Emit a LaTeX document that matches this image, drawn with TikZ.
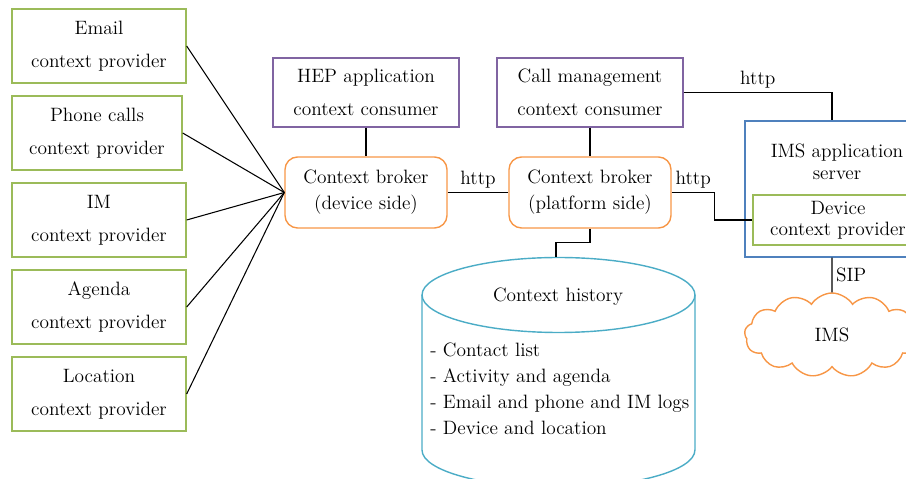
\documentclass[tikz,border=0pt]{standalone}
\usetikzlibrary{shapes.symbols}
\definecolor{provgreen}{HTML}{9BBB59}
\definecolor{conspurple}{HTML}{8064A2}
\definecolor{brokorange}{HTML}{F79646}
\definecolor{servblue}{HTML}{4F81BD}
\definecolor{histteal}{HTML}{4BACC6}
\begin{document}
\begin{tikzpicture}[x=0.02cm, y=-0.02cm, line width=0.6pt,
    font=\fontsize{11}{18.7}\selectfont,
    provider/.style={draw=provgreen, line width=0.8pt, align=center,
      minimum width=3.48cm, minimum height=1.48cm},
    consumer/.style={draw=conspurple, line width=0.8pt, align=center,
      minimum width=3.72cm, minimum height=1.38cm},
    broker/.style={draw=brokorange, line width=0.8pt, rounded corners=0.25cm,
      align=center, minimum width=3.24cm, minimum height=1.42cm,
      font=\fontsize{11}{14.7}\selectfont},
    lbl/.style={inner sep=2pt}]
  \useasboundingbox (0,0) rectangle (906,479);

  % context providers
  \node[provider] (email) at (99,46) {Email\\context provider};
  \node[provider, minimum width=3.40cm] (phone) at (97,133) {Phone calls\\context provider};
  \node[provider] (im) at (99,220) {IM\\context provider};
  \node[provider] (agenda) at (99,307) {Agenda\\context provider};
  \node[provider] (location) at (99,394) {Location\\context provider};

  % consumers and brokers
  \node[consumer] (hep) at (366,92.5) {HEP application\\context consumer};
  \node[consumer] (call) at (590,92.5) {Call management\\context consumer};
  \node[broker] (dev) at (366,192.5) {Context broker\\(device side)};
  \node[broker] (plat) at (590,192.5) {Context broker\\(platform side)};

  % IMS side
  \node[draw=servblue, line width=0.8pt, minimum width=3.72cm, minimum height=2.72cm] (ims) at (838,189) {};
  \node[align=center, font=\fontsize{11}{12.5}\selectfont] (imstxt) at (837,162) {IMS application\\server};
  \node[draw=provgreen, line width=0.8pt, align=center, minimum width=3.40cm, minimum height=1.0cm,
    font=\fontsize{11}{12}\selectfont] (dcp) at (838,220) {Device\\context provider};
  \node[cloud, draw=brokorange, line width=0.8pt, cloud puffs=13, cloud puff arc=115, aspect=2,
    minimum width=3.5cm, minimum height=1.68cm] (net) at (832,335) {IMS};
  \coordinate (imstop) at ([xshift=-0.12cm]ims.north);
  \coordinate (imsbot) at ([xshift=-0.12cm]ims.south);

  % context history
  \draw[histteal, line width=0.8pt] (558.5,295) ellipse [x radius=2.73cm, y radius=0.75cm];
  \draw[histteal, line width=0.8pt] (422,295) -- (422,450)
    arc[start angle=180, end angle=360, x radius=2.73cm, y radius=0.75cm] -- (695,295);
  \coordinate (hist) at (556,257);
  \node (histtxt) at (558,297) {Context history};
  \node[align=left, anchor=west, font=\fontsize{11}{14.7}\selectfont] (histlist) at (424,389)
    {- Contact list\\- Activity and agenda\\- Email and phone and IM logs\\- Device and location};

  % connectors
  \foreach \p in {email,phone,im,agenda,location}
    \draw (\p.east) -- (dev.west);
  \draw (hep) -- (dev);
  \draw (call) -- (plat);
  \draw (dev) -- node[above, lbl] {http} (plat);
  \draw (plat.east) -- node[above, lbl] {http} ++(43,0) |- (dcp.west);
  \draw (call.east) -| node[pos=0.25, above, lbl] {http} (imstop);
  \draw (plat.south) -- ++(0,14) -| (hist);
  \draw (imsbot) -- node[right, lbl] {SIP} (net.north);
\end{tikzpicture}
\end{document}
